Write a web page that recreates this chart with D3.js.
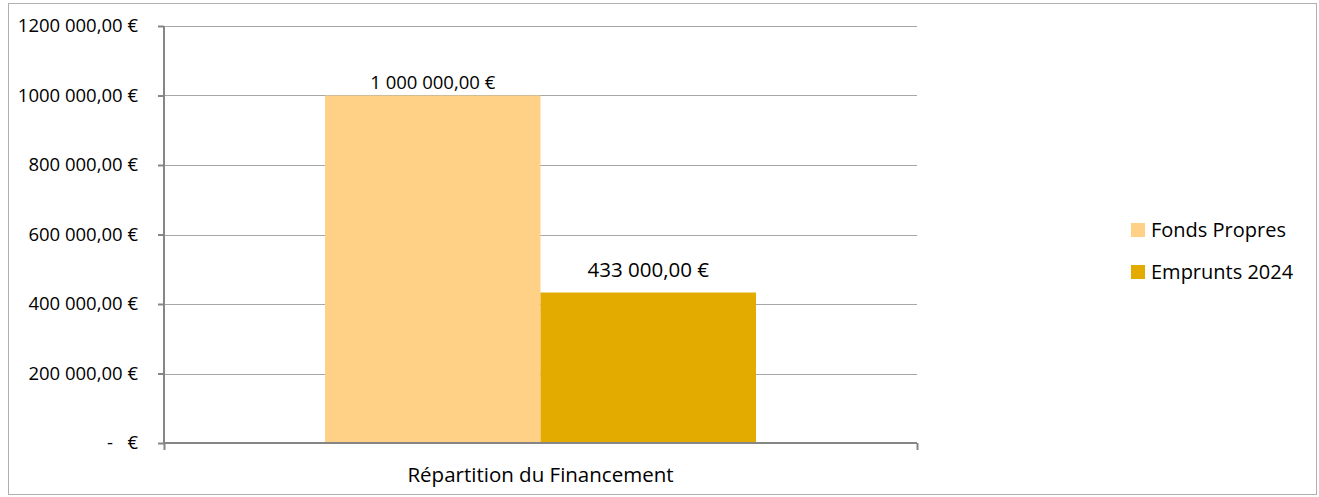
<!DOCTYPE html>
<head>
  <title>Financement</title>
  <script src="https://d3js.org/d3.v7.min.js"></script>
  <style>
  body {margin: 0; background: white;}
  svg text {font-family: "Open Sans", "Noto Sans", sans-serif; fill: #000; white-space: pre;}
  .grid line {stroke: #a6a6a6; stroke-width: 1px;}
  .axis path, .axis line {stroke: #868686; stroke-width: 2px;}
  </style>
</head>
<body>
  <svg id="chart" width="1319" height="497"></svg>
  <script>
  var category = "Répartition du Financement";
  var seriesNames = ["Fonds Propres", "Emprunts 2024"];
  var seriesValues = [1000000, 433000];
  var seriesColors = ["#fed186", "#e3aa00"];
  var valueLabels = ["1 000 000,00 €", "433 000,00 €"];
  var tickValues = [0, 200000, 400000, 600000, 800000, 1000000, 1200000];
  var tickLabels = ["-   €", "200 000,00 €", "400 000,00 €", "600 000,00 €", "800 000,00 €", "1000 000,00 €", "1200 000,00 €"];

  var svg = d3.select("#chart");

  // outer frame
  svg.append("rect")
    .attr("x", 8.5).attr("y", 3.5)
    .attr("width", 1308).attr("height", 491)
    .attr("fill", "white")
    .attr("stroke", "#b0b0b0");

  var plot = {left: 164, right: 917, top: 26, bottom: 443};

  var y = d3.scaleLinear().domain([0, 1200000]).range([plot.bottom, plot.top]);
  var x0 = d3.scaleBand().domain([category]).range([plot.left, plot.right]).paddingInner(0).paddingOuter(0.3736);
  var x1 = d3.scaleBand().domain(seriesNames).range([0, x0.bandwidth()]);

  // gridlines
  svg.append("g").attr("class", "grid")
    .selectAll("line").data(tickValues.slice(1)).enter().append("line")
    .attr("x1", plot.left).attr("x2", plot.right)
    .attr("y1", function(d) { return Math.round(y(d)) + 0.5; })
    .attr("y2", function(d) { return Math.round(y(d)) + 0.5; });

  // bars
  svg.append("g").selectAll("rect").data(seriesValues).enter().append("rect")
    .attr("x", function(d, i) { return x0(category) + x1(seriesNames[i]); })
    .attr("width", x1.bandwidth())
    .attr("y", function(d) { return y(d); })
    .attr("height", function(d) { return plot.bottom - y(d); })
    .attr("fill", function(d, i) { return seriesColors[i]; });

  // value labels
  var labelSizes = [18.5, 20.5];
  var labelGaps = [7, 16];
  svg.append("g").selectAll("text").data(seriesValues).enter().append("text")
    .attr("x", function(d, i) { return x0(category) + x1(seriesNames[i]) + x1.bandwidth() / 2; })
    .attr("y", function(d, i) { return y(d) - labelGaps[i]; })
    .attr("text-anchor", "middle")
    .style("font-size", function(d, i) { return labelSizes[i] + "px"; })
    .text(function(d, i) { return valueLabels[i]; });

  // y axis
  var yAxis = d3.axisLeft(y).tickValues(tickValues).tickSize(6).tickPadding(20)
    .tickFormat(function(d, i) { return tickLabels[i]; });
  var gy = svg.append("g").attr("class", "axis")
    .attr("transform", "translate(" + plot.left + ",0)")
    .call(yAxis);
  gy.select(".domain").attr("d", "M0," + plot.top + "V" + plot.bottom);
  gy.selectAll("text").style("font-size", "18.5px");

  // x axis
  var xAxis = d3.axisBottom(d3.scaleLinear().domain([0, 1]).range([plot.left, plot.right]))
    .tickValues([0, 1]).tickSize(7).tickFormat("");
  var gx = svg.append("g").attr("class", "axis")
    .attr("transform", "translate(0," + plot.bottom + ")")
    .call(xAxis);
  gx.select(".domain").attr("d", "M" + plot.left + ",0H" + plot.right);

  svg.append("text")
    .attr("x", x0(category) + x0.bandwidth() / 2)
    .attr("y", 482)
    .attr("text-anchor", "middle")
    .style("font-size", "20.5px")
    .text(category);

  // legend
  var legend = svg.append("g").selectAll("g").data(seriesNames).enter().append("g")
    .attr("transform", function(d, i) { return "translate(1131," + (223 + i * 42) + ")"; });
  legend.append("rect").attr("width", 14).attr("height", 14)
    .attr("fill", function(d, i) { return seriesColors[i]; });
  legend.append("text").attr("x", 20).attr("y", 13.5)
    .style("font-size", "20px")
    .text(function(d) { return d; });
  </script>
</body>
